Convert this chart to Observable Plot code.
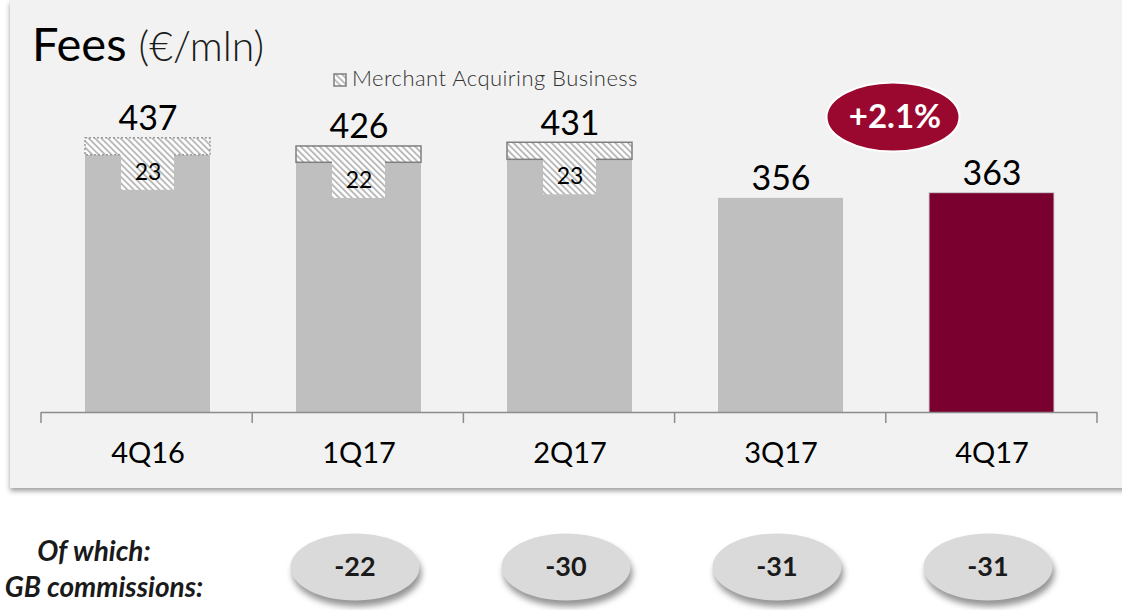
<!DOCTYPE html>
<html>
<head>
<meta charset="utf-8">
<script src="https://cdn.jsdelivr.net/npm/d3@7"></script>
<script src="https://cdn.jsdelivr.net/npm/@observablehq/plot@0.6"></script>
<style>
  html, body { margin: 0; padding: 0; background: #ffffff; }
  #stage { position: relative; width: 1122px; height: 610px; overflow: hidden; font-family: Lato, "Open Sans", sans-serif; }
  #panel { position: absolute; left: 10px; top: 0; width: 1140px; height: 488px; background: #f2f2f2;
           box-shadow: 0 3px 5px rgba(0,0,0,0.38); }
  #title { position: absolute; left: 32px; top: 20px; font-size: 47px; line-height: 1; color: #000; white-space: nowrap; }
  #title span { font-size: 41px; font-weight: 300; color: #1a1a1a; }
  #legend { position: absolute; left: 333px; top: 67px; font-size: 22px; font-weight: 300; letter-spacing: 0.45px; line-height: 1; color: #333; white-space: nowrap; }
  #legend svg { vertical-align: -1px; margin-right: 5px; }
  .sub { position: absolute; font-size: 28px; font-weight: 700; font-style: italic; color: #1a1a1a; line-height: 1; white-space: nowrap; transform: translateX(-50%); }
  #chart { position: absolute; left: 0; top: 0; }
  #chart g[aria-description="gb-bubbles"] { filter: drop-shadow(2px 6px 3px rgba(0,0,0,0.42)); }
</style>
</head>
<body>
<div id="stage">
  <div id="panel"></div>
  <div id="chart"></div>
  <div id="title">Fees <span>(€/mln)</span></div>
  <div id="legend"><svg width="14" height="14"><rect x="1" y="1" width="12" height="12" fill="url(#hatch)" stroke="#7f7f7f" stroke-width="1.5"></rect></svg>Merchant Acquiring Business</div>
  <div class="sub" style="left:94px; top:536px;">Of which:</div>
  <div class="sub" style="left:104px; top:572px;">GB commissions:</div>
</div>
<script>
// ---- data ----
const quarters = ["4Q16", "1Q17", "2Q17", "3Q17", "4Q17"];
const totalFees = [437, 426, 431, 356, 363];
const merchantAcquiring = [23, 22, 23, null, null];
const gbCommissions = [null, -22, -30, -31, -31];
const growthLabel = "+2.1%";
const highlightQuarter = "4Q17";

// ---- derived tables ----
const rows = quarters.map((q, i) => ({
  q, total: totalFees[i], mab: merchantAcquiring[i],
  core: totalFees[i] - (merchantAcquiring[i] ?? 0)
}));
const mabRows = rows.filter(d => d.mab != null);
const gbRows = quarters.map((q, i) => ({q, v: gbCommissions[i]})).filter(d => d.v != null);

// ellipse symbol (rx = r, ry = 0.52 r)
const ellipse = {
  draw(ctx, size) {
    const rx = Math.sqrt(size / Math.PI), ry = rx * 0.52, k = 0.5523;
    ctx.moveTo(rx, 0);
    ctx.bezierCurveTo(rx, ry * k, rx * k, ry, 0, ry);
    ctx.bezierCurveTo(-rx * k, ry, -rx, ry * k, -rx, 0);
    ctx.bezierCurveTo(-rx, -ry * k, -rx * k, -ry, 0, -ry);
    ctx.bezierCurveTo(rx * k, -ry, rx, -ry * k, rx, 0);
    ctx.closePath();
  }
};

// hatch pattern definition
function hatchDefs() {
  const defs = d3.create("svg:defs");
  const p = defs.append("pattern").attr("id", "hatch").attr("width", 4.5).attr("height", 4.5)
    .attr("patternUnits", "userSpaceOnUse").attr("patternTransform", "rotate(-45)");
  p.append("rect").attr("width", 4.5).attr("height", 4.5).attr("fill", "#ffffff");
  p.append("rect").attr("width", 1.9).attr("height", 4.5).attr("fill", "#b9b9b9");
  return defs.node();
}

// category boundary ticks under the baseline
function boundaryTicks(index, scales, values, dims) {
  const left = dims.marginLeft, right = dims.width - dims.marginRight;
  const base = dims.height - dims.marginBottom;
  const step = (right - left) / quarters.length;
  const g = d3.create("svg:g").attr("stroke", "#8c8c8c").attr("stroke-width", 1.5);
  for (let i = 0; i <= quarters.length; i++) {
    g.append("line").attr("x1", left + i * step).attr("x2", left + i * step)
      .attr("y1", base).attr("y2", base + 11);
  }
  return g.node();
}

const chart = Plot.plot({
  width: 1122,
  height: 610,
  marginTop: 0,
  marginBottom: 198,
  marginLeft: 41,
  marginRight: 25,
  style: {background: "transparent", fontFamily: "Lato, 'Open Sans', sans-serif", overflow: "visible"},
  x: {domain: quarters, paddingInner: 0.408, paddingOuter: 0.204, axis: null},
  y: {domain: [67, 623], axis: null},
  marks: [
    hatchDefs,
    Plot.barY(rows, {x: "q", y: "core", clip: true,
      fill: d => d.q === highlightQuarter ? "#7a0030" : "#bfbfbf",
      stroke: d => d.q === highlightQuarter ? "#cfcfcf" : "none", strokeWidth: 1}),
    // Merchant acquiring band (first bar dotted border, others solid)
    Plot.barY(mabRows.slice(0, 1), {x: "q", y1: "core", y2: "total", fill: "url(#hatch)",
      stroke: "#9a9a9a", strokeWidth: 1.5, strokeDasharray: "2,2"}),
    Plot.barY(mabRows.slice(1), {x: "q", y1: "core", y2: "total", fill: "url(#hatch)",
      stroke: "#7f7f7f", strokeWidth: 1.5}),
    // label box of the merchant acquiring part
    Plot.barY(mabRows, {x: "q", y1: "total", y2: "total", fill: "url(#hatch)",
      insetTop: 1.5, insetBottom: -52, insetLeft: 36, insetRight: 36}),
    Plot.text(mabRows, {x: "q", y: "total", text: d => String(d.mab), dy: 34, fontSize: 23, fill: "#000"}),
    Plot.text(rows, {x: "q", y: "total", text: d => String(d.total), dy: -19, fontSize: 34, fill: "#000"}),
    // axis
    Plot.ruleY([67], {stroke: "#8c8c8c", strokeWidth: 1.5}),
    boundaryTicks,
    Plot.text(quarters, {x: d => d, text: d => d, frameAnchor: "bottom", lineAnchor: "middle", dy: 41, fontSize: 29, fill: "#000"}),
    // growth bubble
    Plot.dot([growthLabel], {x: () => highlightQuarter, frameAnchor: "top", dy: 116.5, dx: -99,
      r: 66.5, symbol: ellipse, fill: "#9a0830", stroke: "#ffffff", strokeWidth: 2}),
    Plot.text([growthLabel], {x: () => highlightQuarter, text: d => d, frameAnchor: "top", lineAnchor: "middle",
      dy: 117, dx: -97, fontSize: 33, fontWeight: "bold", fill: "#ffffff"}),
    // GB commissions bubbles
    Plot.dot(gbRows, {x: "q", frameAnchor: "bottom", dy: 154.5, dx: -4, r: 64.5, symbol: ellipse,
      fill: "#dadada", ariaDescription: "gb-bubbles"}),
    Plot.text(gbRows, {x: "q", text: d => String(d.v), frameAnchor: "bottom", lineAnchor: "middle",
      dy: 155, dx: -4, fontSize: 27, fontWeight: "bold", fill: "#1a1a1a"})
  ]
});
document.getElementById("chart").appendChild(chart);
</script>
</body>
</html>
